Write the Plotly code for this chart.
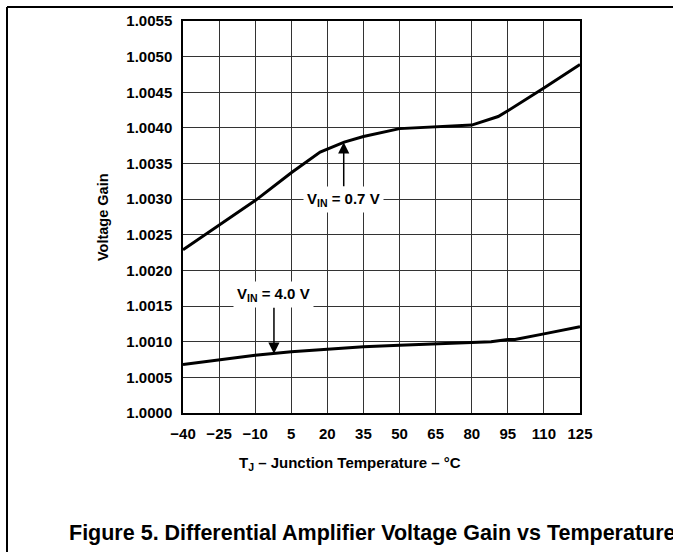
"""
Differential amplifier voltage gain vs junction temperature,
two input levels (VIN = 0.7 V and VIN = 4.0 V).
"""

import plotly.graph_objects as go

# ---- data ----
TEMP_07 = [-40, -25, -10, 5, 17, 27, 35, 50, 65, 80, 91, 95, 110, 125]
GAIN_07 = [1.00229, 1.00263, 1.00298, 1.00337, 1.00366, 1.00380, 1.00388,
           1.00399, 1.00401, 1.00404, 1.00416, 1.00424, 1.00456, 1.00489]

TEMP_40 = [-40, -25, -10, 5, 20, 35, 50, 65, 80, 88, 95, 98, 110, 125]
GAIN_40 = [1.00068, 1.00075, 1.00081, 1.00086, 1.00090, 1.00093, 1.00095,
           1.00097, 1.00098, 1.00100, 1.00103, 1.00103, 1.00111, 1.00121]

X_TICKS = [-40, -25, -10, 5, 20, 35, 50, 65, 80, 95, 110, 125]
Y_TICKS = [1.0000, 1.0005, 1.0010, 1.0015, 1.0020, 1.0025, 1.0030,
           1.0035, 1.0040, 1.0045, 1.0050, 1.0055]

LABEL_07 = "V<sub>IN</sub> = 0.7 V"
LABEL_40 = "V<sub>IN</sub> = 4.0 V"
X_TITLE = "T<sub>J</sub> – Junction Temperature – °C"
Y_TITLE = "Voltage Gain"
CAPTION = "Figure 5. Differential Amplifier Voltage Gain vs Temperature"

# ---- page geometry (pixels) ----
W, H = 673, 552
PLOT_L, PLOT_R, PLOT_T, PLOT_B = 183, 580, 21, 413
FONT = "Liberation Sans, Arial, Helvetica, sans-serif"


def px_x(px):
    return (px - PLOT_L) / (PLOT_R - PLOT_L)


def px_y(py):
    return (PLOT_B - py) / (PLOT_B - PLOT_T)


def bold(size):
    return dict(family=FONT, size=size, color="black", weight="bold")


fig = go.Figure()
fig.add_trace(go.Scatter(x=TEMP_07, y=GAIN_07, mode="lines",
                         line=dict(color="black", width=3), showlegend=False))
fig.add_trace(go.Scatter(x=TEMP_40, y=GAIN_40, mode="lines",
                         line=dict(color="black", width=3), showlegend=False))

annotations = [
    # curve labels with arrows; white box hides the grid behind the text
    dict(x=26.8, y=1.00380, ax=26.8, ay=1.00300, xref="x", yref="y",
         axref="x", ayref="y", text=LABEL_07, font=bold(15),
         bgcolor="white", borderpad=3, showarrow=True, arrowhead=2,
         arrowsize=1.5, arrowwidth=1.5, arrowcolor="black"),
    dict(x=-2.2, y=1.00083, ax=-2.2, ay=1.00166, xref="x", yref="y",
         axref="x", ayref="y", text=LABEL_40, font=bold(15),
         bgcolor="white", borderpad=3, showarrow=True, arrowhead=2,
         arrowsize=1.5, arrowwidth=1.5, arrowcolor="black"),
    # axis titles
    dict(x=px_x(350), y=px_y(463), xref="paper", yref="paper", text=X_TITLE,
         showarrow=False, font=bold(15), xanchor="center", yanchor="middle"),
    dict(x=px_x(103), y=px_y(217), xref="paper", yref="paper", text=Y_TITLE,
         showarrow=False, font=bold(14.5), textangle=-90,
         xanchor="center", yanchor="middle"),
    # figure caption
    dict(x=px_x(67), y=px_y(533), xref="paper", yref="paper", text=CAPTION,
         showarrow=False, font=bold(21.5), xanchor="left", yanchor="middle"),
]

# page frame lines (top and left edges of the datasheet box)
shapes = [
    dict(type="line", xref="paper", yref="paper", x0=px_x(7), x1=px_x(W + 5),
         y0=px_y(7), y1=px_y(7), line=dict(color="black", width=2)),
    dict(type="line", xref="paper", yref="paper", x0=px_x(7), x1=px_x(7),
         y0=px_y(7), y1=px_y(H + 5), line=dict(color="black", width=2)),
]

fig.update_layout(
    width=W, height=H,
    margin=dict(l=PLOT_L, r=W - PLOT_R, t=PLOT_T, b=H - PLOT_B, autoexpand=False),
    paper_bgcolor="white", plot_bgcolor="white",
    annotations=annotations, shapes=shapes,
)
fig.update_xaxes(
    range=[-40, 125], tickvals=X_TICKS, tickfont=bold(15),
    showgrid=True, gridcolor="#333333", gridwidth=1,
    showline=True, linecolor="black", linewidth=1.5, mirror=True,
    zeroline=False, ticks="", ticklabelstandoff=6,
)
fig.update_yaxes(
    range=[1.0000, 1.0055], tickvals=Y_TICKS, tickformat=".4f", tickfont=bold(15),
    showgrid=True, gridcolor="#333333", gridwidth=1,
    showline=True, linecolor="black", linewidth=1.5, mirror=True,
    zeroline=False, ticks="", ticklabelstandoff=6,
)

# no body margin and no scrollbars, so the figure fills the window exactly
fig.write_html(
    "out.html", config={"displayModeBar": False},
    post_script=("document.body.style.margin = '0';"
                 "document.body.style.overflow = 'hidden';"
                 "document.documentElement.style.overflow = 'hidden';"),
)
